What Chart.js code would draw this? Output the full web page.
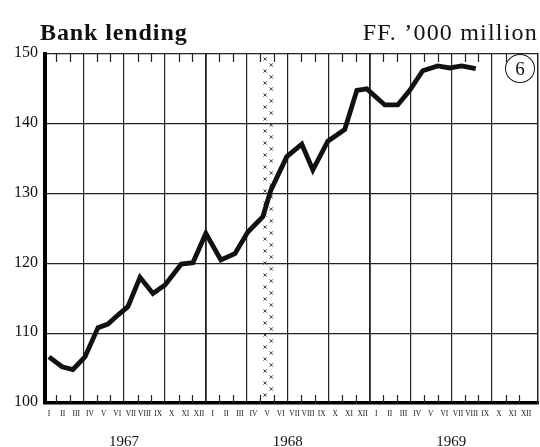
<!DOCTYPE html>
<html>
<head>
<meta charset="utf-8">
<script src="https://cdn.jsdelivr.net/npm/chart.js@4"></script>
<style>
  body { margin: 0; background: #fff; }
  #wrap { position: relative; width: 540px; height: 447px; font-family: 'Liberation Serif', serif; color: #111; }
  #c { position: absolute; left: 0; top: 0; }
  .head { position: absolute; top: 20px; font-size: 24px; line-height: 1; white-space: nowrap; }
  #ttl { left: 40px; font-weight: bold; letter-spacing: 0.9px; }
  #unit { right: 2px; letter-spacing: 1.2px; }
  #num { position: absolute; left: 505px; top: 54px; width: 28px; height: 27px; border: 1.5px solid #111;
         border-radius: 50%; text-align: center; line-height: 27px; font-size: 19px; background: #fff; }
</style>
</head>
<body>
<div id="wrap">
  <canvas id="c" width="540" height="447"></canvas>
  <div class="head" id="ttl">Bank lending</div>
  <div class="head" id="unit">FF. ’000 million</div>
  <div id="num">6</div>
</div>
<script>
// Bank lending, monthly, Jan 1967 – Aug 1969 (FF. '000 million)
const years = ['1967', '1968', '1969'];
const romanMonths = ['I', 'II', 'III', 'IV', 'V', 'VI', 'VII', 'VIII', 'IX', 'X', 'XI', 'XII'];
const yTicks = [100, 110, 120, 130, 140, 150];

// position along the time axis, in months from the start of Jan 1967
const monthPos = [0.49, 1.45, 2.25, 3.13, 4.09, 4.82, 5.55, 6.28, 7.17, 8.12, 9.0, 10.2,
  11.05, 12.0, 13.1, 14.13, 15.08, 16.18, 16.77, 17.94, 19.04, 19.85, 20.95, 22.19,
  23.08, 23.81, 25.13, 26.08, 26.96, 27.91, 29.01, 29.89, 30.77, 31.8];
const lending = [106.6, 105.2, 104.8, 106.6, 110.8, 111.3, 112.6, 113.8, 118.0, 115.7, 116.9, 119.9,
  120.1, 124.3, 120.5, 121.4, 124.5, 126.7, 130.5, 135.3, 137.1, 133.4, 137.5, 139.2,
  144.8, 145.0, 142.7, 142.7, 144.8, 147.6, 148.3, 148.0, 148.3, 147.9];

// May 1968 is hatched with crosses
const strikeMonth = 16;

const monthLabels = years.flatMap(() => romanMonths);
const X_MIN = 0.2, X_MAX = 36.35;
const SERIF = "'Liberation Serif', serif";

// short month ticks along top and bottom, plus the cross-hatched column
const marks = {
  id: 'marks',
  beforeDatasetsDraw(chart) {
    const { ctx, chartArea: a, scales: { x } } = chart;
    ctx.save();
    ctx.strokeStyle = '#222';
    ctx.lineWidth = 1.2;
    for (let k = 1; k < monthLabels.length; k++) {
      if (k % 3 === 0) continue;
      const px = Math.round(x.getPixelForValue(k)) + 0.5;
      ctx.beginPath();
      ctx.moveTo(px, a.bottom); ctx.lineTo(px, a.bottom - 8);
      ctx.moveTo(px, a.top); ctx.lineTo(px, a.top + 8);
      ctx.stroke();
    }
    ctx.strokeStyle = '#333';
    ctx.lineWidth = 1;
    [0.35, 0.8].forEach((off, j) => {
      const cx = x.getPixelForValue(strikeMonth + off);
      for (let y = a.top + 5 + j * 6; y < a.bottom - 2; y += 12) {
        ctx.beginPath();
        ctx.moveTo(cx - 1.6, y - 1.6); ctx.lineTo(cx + 1.6, y + 1.6);
        ctx.moveTo(cx + 1.6, y - 1.6); ctx.lineTo(cx - 1.6, y + 1.6);
        ctx.stroke();
      }
    });
    ctx.restore();
  }
};

new Chart(document.getElementById('c'), {
  type: 'line',
  data: {
    datasets: [{
      label: 'Bank lending',
      data: monthPos.map((m, i) => ({ x: m, y: lending[i] })),
      borderColor: '#111',
      borderWidth: 4.8,
      borderJoinStyle: 'miter',
      pointRadius: 0,
      tension: 0,
      xAxisID: 'x',
      yAxisID: 'y',
    }],
  },
  options: {
    responsive: false,
    animation: false,
    devicePixelRatio: 1,
    layout: { padding: { top: 54, left: 0, right: 0, bottom: 0 } },
    plugins: { legend: { display: false }, tooltip: { enabled: false } },
    scales: {
      x: {
        type: 'linear', position: 'bottom', weight: 0,
        min: X_MIN, max: X_MAX,
        afterBuildTicks: (s) => { s.ticks = monthLabels.map((_, k) => ({ value: k })).concat([{ value: 36 }]); },
        afterFit: (s) => { s.height = 24; },
        ticks: {
          autoSkip: false, maxRotation: 0, minRotation: 0,
          labelOffset: 6.8, padding: 7,
          font: { family: SERIF, size: 7.5 }, color: '#111',
          callback: (v) => monthLabels[v] || '',
        },
        grid: {
          drawTicks: false,
          color: (c) => (c.tick && c.tick.value % 3 === 0 && c.tick.value > 0 && c.tick.value < 36 ? '#222' : 'rgba(0,0,0,0)'),
          lineWidth: (c) => (c.tick && c.tick.value % 12 === 0 ? 1.8 : 1.2),
        },
        border: { color: '#000', width: 3.5 },
      },
      years: {
        type: 'linear', position: 'bottom', weight: 1,
        min: X_MIN, max: X_MAX,
        afterBuildTicks: (s) => { s.ticks = years.map((_, i) => ({ value: i * 12 + 6 })); },
        afterFit: (s) => { s.height = 20; },
        ticks: {
          autoSkip: false, maxRotation: 0, padding: 6,
          font: { family: SERIF, size: 15 }, color: '#111',
          callback: (v) => years[(v - 6) / 12],
        },
        grid: { display: false, drawTicks: false },
        border: { display: false },
      },
      y: {
        type: 'linear', position: 'left',
        min: yTicks[0], max: yTicks[yTicks.length - 1],
        afterBuildTicks: (s) => { s.ticks = yTicks.map((v) => ({ value: v })); },
        afterFit: (s) => { s.width = 45; },
        ticks: { padding: 7, labelOffset: -1, font: { family: SERIF, size: 16 }, color: '#111' },
        grid: { drawTicks: false, color: '#222', lineWidth: 1.3 },
        border: { color: '#000', width: 4 },
      },
      yR: {
        type: 'linear', position: 'right',
        min: yTicks[0], max: yTicks[yTicks.length - 1],
        afterFit: (s) => { s.width = 2; },
        ticks: { display: false },
        grid: { display: false, drawTicks: false },
        border: { color: '#222', width: 1.5 },
      },
    },
  },
  plugins: [marks],
});
</script>
</body>
</html>
